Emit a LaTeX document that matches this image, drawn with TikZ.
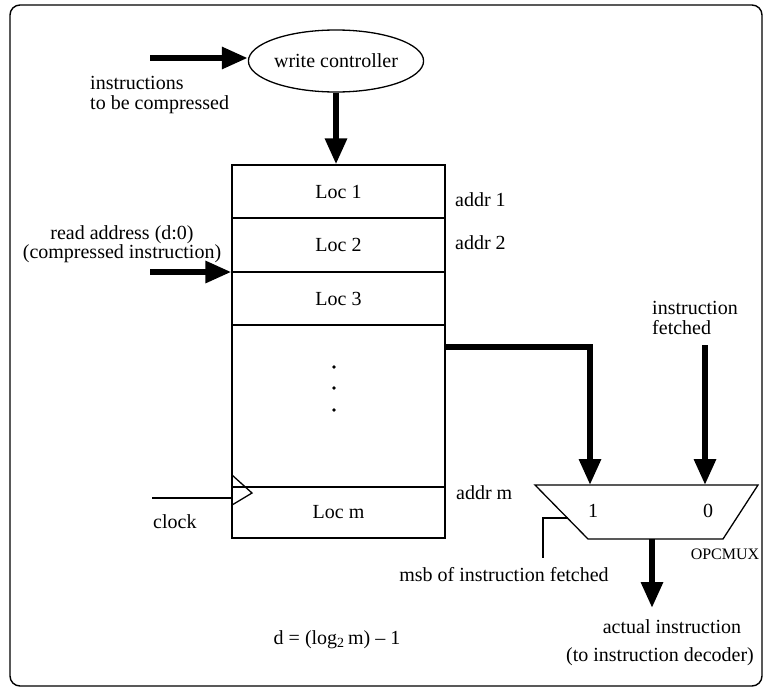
\documentclass[tikz,border=0pt]{standalone}
\usepackage{fontspec}
\setmainfont{Liberation Serif}
\usetikzlibrary{arrows.meta,shapes.geometric}
\begin{document}
\begin{tikzpicture}[x=1pt,y=-1pt,
  txt/.style={font=\fontsize{20}{22}\selectfont, inner sep=0pt},
  bigarrow/.style={line width=6pt,-{Triangle[length=26pt,width=21pt]}},
  wire/.style={line width=1.3pt},
  cell/.style={draw, line width=1.3pt, minimum width=213pt, inner sep=0pt, font=\fontsize{20}{22}\selectfont},
  frame/.style={line width=1.4pt, rounded corners=10pt}
]
\useasboundingbox (0,0) rectangle (765,688);
\draw[frame] (10,5) rectangle (762,686);

% write controller
\node[ellipse, draw, line width=1.3pt, minimum width=163pt, minimum height=62pt, inner sep=0pt,
      font=\fontsize{20}{22}\selectfont] (wc) at (336,61) {write controller};
\coordinate (inA) at (150,58);
\draw[bigarrow] (inA) -- (inA -| wc.west);
\node[txt, align=left, anchor=west] (lblA) at (90,83) {instructions};
\node[txt, align=left, anchor=west] (lblA2) at (90,105) {to be compressed};

% memory cells
\node[cell, minimum height=53pt] (loc1) at (338.5,191.5) {Loc 1};
\node[cell, minimum height=54pt] (loc2) at (338.5,245) {Loc 2};
\node[cell, minimum height=53pt] (loc3) at (338.5,298.5) {Loc 3};
\node[cell, minimum height=162pt] (dots) at (338.5,406) {};
\node[cell, minimum height=51pt] (locm) at (338.5,512.5) {Loc m};
\foreach \yy/\nm in {367/d1,388/d2,410/d3}
  \fill (334,\yy) circle (1.8pt) coordinate (\nm);

\draw[bigarrow] (wc.south) -- (wc.south |- loc1.north);

\node[txt, anchor=west] (a1) at (455,200) {addr 1};
\node[txt, anchor=west] (a2) at (455,243) {addr 2};
\node[txt, anchor=west] (am) at (456,493) {addr m};

% read address
\node[txt, align=center, font=\fontsize{20}{16}\selectfont] (rd) at (122,244) {read address (d:0)\\(compressed instruction)};
\coordinate (inB) at (150,272);
\draw[bigarrow] (inB) -- (inB -| loc2.west);

% clock
\coordinate (clk) at (152,498);
\draw[wire] (clk) -- (clk -| locm.west);
\coordinate (ck1) at (232,475);
\coordinate (ck2) at (252,493);
\coordinate (ck3) at (232,505);
\draw[wire] (ck1) -- (ck2) -- (ck3);
\node[txt, anchor=west] (clklbl) at (153,522) {clock};

% mux
\coordinate (mA) at (535,485);
\coordinate (mB) at (758,485);
\coordinate (mC) at (723,539);
\coordinate (mD) at (588,539);
\draw[line width=1.3pt] (mA) -- (mB) -- (mC) -- (mD) -- cycle;
\node[txt] (m1) at (593,511) {1};
\node[txt] (m0) at (708,511) {0};
\node[font=\fontsize{16}{18}\selectfont, inner sep=0pt] (opc) at (725,554) {OPCMUX};
\coordinate (mux1) at (590,485);
\coordinate (mux0) at (705,485);

\coordinate (tap) at (445,347);
\draw[bigarrow] (tap) -| (mux1);

\node[txt, align=left, anchor=west] (if1) at (652,308) {instruction};
\node[txt, align=left, anchor=west] (if2) at (652,328) {fetched};
\coordinate (ifa) at (705,345);
\draw[bigarrow] (ifa) -- (mux0);

\coordinate (muxout) at (652,539);
\coordinate (act) at (652,608);
\draw[bigarrow] (muxout) -- (act);
\node[txt] (act1) at (672,627) {actual instruction};
\node[txt] (act2) at (660,657) {(to instruction decoder)};

% msb
\coordinate (msbA) at (568,518);
\coordinate (msbB) at (543,518);
\coordinate (msbC) at (543,558);
\draw[wire] (msbA) -- (msbB) -- (msbC);
\node[txt] (msb) at (504,575) {msb of instruction fetched};

\node[txt] (deq) at (337,640) {d = (log\textsubscript{2}\,m) -- 1};
\end{tikzpicture}
\end{document}
